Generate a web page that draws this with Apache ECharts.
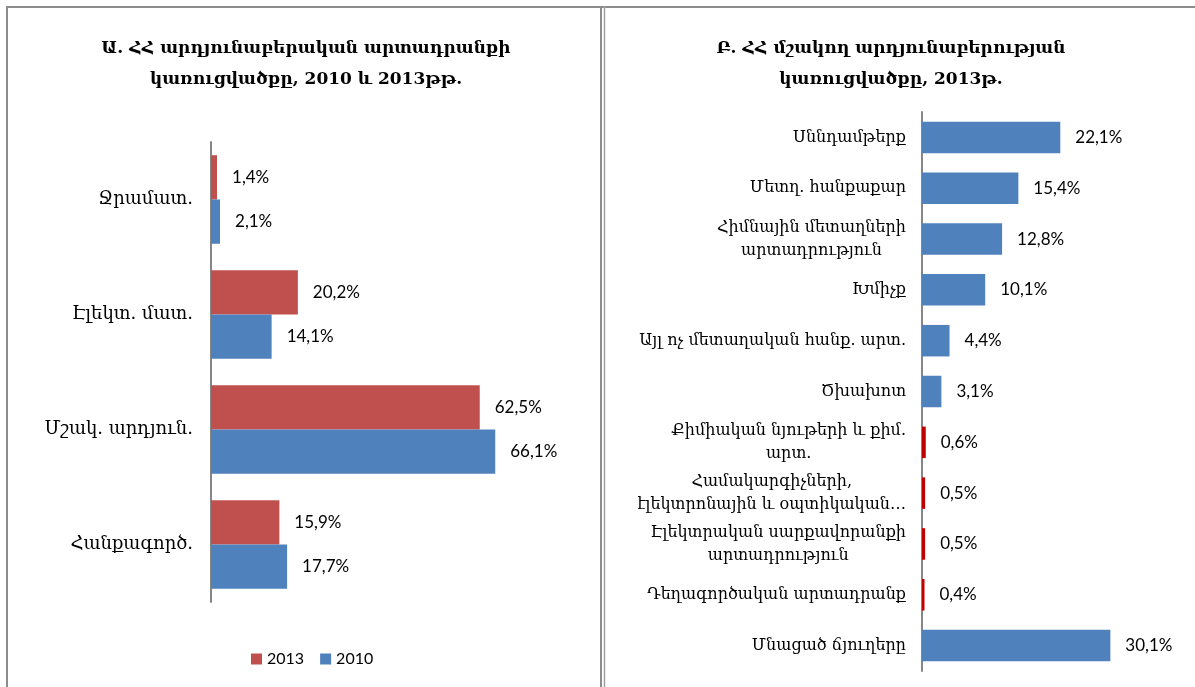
<!DOCTYPE html>
<html>
<head>
<meta charset="utf-8">
<script src="https://cdn.jsdelivr.net/npm/echarts@6/dist/echarts.min.js"></script>
<style>
  html, body { margin: 0; padding: 0; background: #fff; }
  #main { width: 1195px; height: 687px; }
</style>
</head>
<body>
<div id="main"></div>
<script>
// ձախ գծապատկեր
const ճյուղերA = ['Ջրամատ.', 'Էլեկտ. մատ.', 'Մշակ. արդյուն.', 'Հանքագործ.'];
const տարիներ = ['2013', '2010'];
const արժեք2013 = [1.4, 20.2, 62.5, 15.9];
const արժեք2010 = [2.1, 14.1, 66.1, 17.7];

// աջ գծապատկեր
const ճյուղերB = [
  'Սննդամթերք',
  'Մետղ. հանքաքար',
  'Հիմնային մետաղների\nարտադրություն',
  'Խմիչք',
  'Այլ ոչ մետաղական հանք. արտ.',
  'Ծխախոտ',
  'Քիմիական նյութերի և քիմ.\nարտ.',
  'Համակարգիչների,\nէլեկտրոնային և օպտիկական…',
  'Էլեկտրական սարքավորանքի\nարտադրություն',
  'Դեղագործական արտադրանք',
  'Մնացած ճյուղերը'
];
const արժեքB = [22.1, 15.4, 12.8, 10.1, 4.4, 3.1, 0.6, 0.5, 0.5, 0.4, 30.1];

const կապույտ = '#4F81BD';
const կարմիր = '#C0504D';
const մուգԿարմիր = '#C00000';
const մոխրագույն = '#868686';
const հայՏառ = '"DejaVu Serif", serif';
const թվայինՏառ = 'Lato, "Open Sans", sans-serif';

function տոկոս(p) {
  return p.value.toFixed(1).replace('.', ',') + '%';
}

var chartDom = document.getElementById('main');
var myChart = echarts.init(chartDom);

var option = {
  animation: false,
  backgroundColor: '#fff',
  title: [
    {
      text: 'Ա. ՀՀ արդյունաբերական արտադրանքի\nկառուցվածքը, 2010 և 2013թթ.',
      left: 301, top: 28, textAlign: 'center',
      textStyle: { fontFamily: հայՏառ, fontSize: 17, fontWeight: 'bold', lineHeight: 31, color: '#000' }
    },
    {
      text: 'Բ. ՀՀ մշակող արդյունաբերության\nկառուցվածքը, 2013թ.',
      left: 886, top: 28, textAlign: 'center',
      textStyle: { fontFamily: հայՏառ, fontSize: 17, fontWeight: 'bold', lineHeight: 31, color: '#000' }
    }
  ],
  legend: {
    data: տարիներ,
    left: 246, top: 646,
    icon: 'rect', itemWidth: 11, itemHeight: 11, itemGap: 16,
    textStyle: { fontFamily: թվայինՏառ, fontSize: 16, color: '#000' }
  },
  grid: [
    { left: 211, top: 142, width: 344, height: 460 },
    { left: 922, top: 112, width: 219, height: 559 }
  ],
  xAxis: [
    { gridIndex: 0, type: 'value', min: 0, max: 80, show: false },
    { gridIndex: 1, type: 'value', min: 0, max: 35, show: false }
  ],
  yAxis: [
    {
      gridIndex: 0, type: 'category', inverse: true, data: ճյուղերA,
      axisLine: { lineStyle: { color: մոխրագույն, width: 2 } },
      axisTick: { length: 6, lineStyle: { color: մոխրագույն, width: 2 } },
      axisLabel: { margin: 18, fontFamily: հայՏառ, fontSize: 18, color: '#000' }
    },
    {
      gridIndex: 1, type: 'category', inverse: true, data: ճյուղերB,
      axisLine: { lineStyle: { color: մոխրագույն, width: 2 } },
      axisTick: { length: 6, lineStyle: { color: մոխրագույն, width: 2 } },
      axisLabel: {
        margin: 16,
        formatter: function (v) {
          return v.split('\n').map(function (s) { return '{c|' + s + '}'; }).join('\n');
        },
        rich: { c: { align: 'center', fontFamily: հայՏառ, fontSize: 16, lineHeight: 23, color: '#000' } }
      }
    }
  ],
  series: [
    {
      name: '2013', type: 'bar', xAxisIndex: 0, yAxisIndex: 0,
      data: արժեք2013, barGap: '0%', barCategoryGap: '23%',
      itemStyle: { color: կարմիր },
      label: { show: true, position: 'right', distance: 15, formatter: տոկոս,
        fontFamily: թվայինՏառ, fontSize: 17, color: '#000' }
    },
    {
      name: '2010', type: 'bar', xAxisIndex: 0, yAxisIndex: 0,
      data: արժեք2010, barGap: '0%', barCategoryGap: '23%',
      itemStyle: { color: կապույտ },
      label: { show: true, position: 'right', distance: 15, formatter: տոկոս,
        fontFamily: թվայինՏառ, fontSize: 17, color: '#000' }
    },
    {
      name: 'B', type: 'bar', xAxisIndex: 1, yAxisIndex: 1,
      data: արժեքB.map(function (v) {
        return { value: v, itemStyle: { color: v < 1 ? մուգԿարմիր : կապույտ } };
      }),
      barCategoryGap: '38%',
      label: { show: true, position: 'right', distance: 15, formatter: տոկոս,
        fontFamily: թվայինՏառ, fontSize: 17, color: '#000' }
    }
  ],
  graphic: [
    { type: 'line', shape: { x1: 6, y1: 7, x2: 1195, y2: 7 }, style: { stroke: '#8c8c8c', lineWidth: 2 } },
    { type: 'line', shape: { x1: 7, y1: 6, x2: 7, y2: 687 }, style: { stroke: '#8c8c8c', lineWidth: 2 } },
    { type: 'line', shape: { x1: 601, y1: 6, x2: 601, y2: 687 }, style: { stroke: '#8c8c8c', lineWidth: 2 } },
    { type: 'line', shape: { x1: 604.5, y1: 6, x2: 604.5, y2: 687 }, style: { stroke: '#a0a0a0', lineWidth: 1.5 } }
  ]
};

option && myChart.setOption(option);
</script>
</body>
</html>
